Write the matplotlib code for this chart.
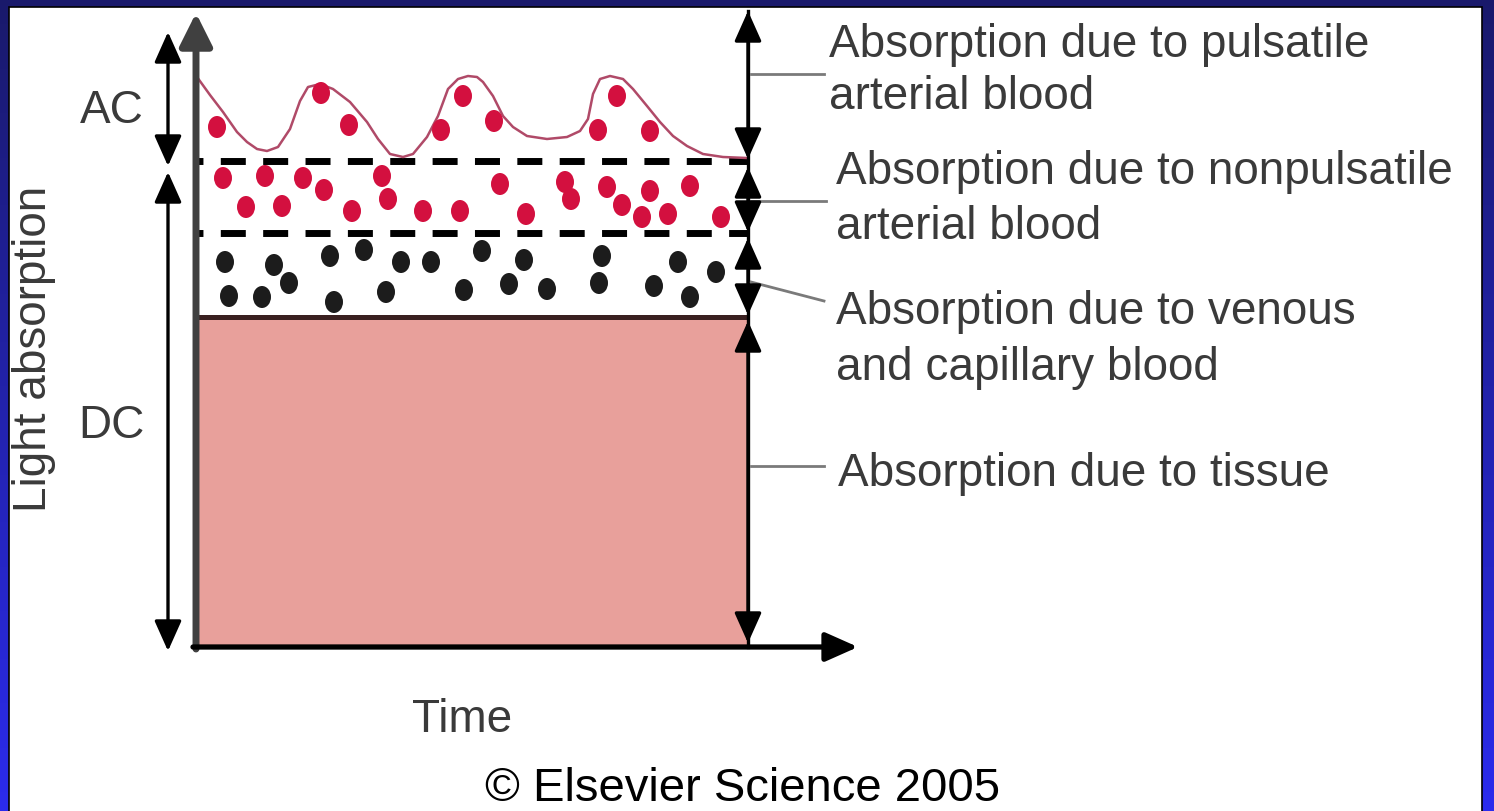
import matplotlib
matplotlib.use("Agg")
import matplotlib.pyplot as plt
import numpy as np
from matplotlib.collections import EllipseCollection
from matplotlib.patches import Rectangle

plt.rcParams['font.family'] = ['Liberation Sans', 'DejaVu Sans']
plt.rcParams['lines.scale_dashes'] = False

# diagram coordinates are in pixels of the 1494x812 picture (y grows downwards)
# pulsatile (AC) curve
curve_x = [197, 210, 223, 237, 247, 257, 267, 278, 290, 300, 308, 320, 333, 350,
           367, 378, 390, 403, 413, 427, 438, 448, 458, 468, 477, 483, 493, 503,
           513, 527, 547, 567, 580, 588, 593, 600, 610, 623, 633, 647, 660, 673,
           687, 703, 723, 747]
curve_y = [78, 96, 113, 133, 143, 150, 152, 148, 130, 102, 88, 85, 90, 103,
           123, 140, 155, 158, 155, 138, 117, 90, 80, 77, 78, 83, 97, 117,
           128, 137, 140, 138, 132, 120, 95, 80, 77, 80, 90, 107, 123, 137,
           147, 155, 158, 159]

# red blood dots above the dashed line (pulsatile part)
ac_dots_x = [217, 321, 349, 441, 463, 494, 598, 617, 650]
ac_dots_y = [128, 94, 126, 131, 97, 122, 131, 97, 132]

# red dots between the dashed lines (nonpulsatile arterial blood)
art_dots_x = [223, 265, 303, 324, 246, 282, 352, 382, 388, 423, 460, 500, 526,
              565, 571, 607, 622, 642, 650, 668, 690, 721]
art_dots_y = [179, 177, 179, 191, 208, 207, 212, 177, 200, 212, 212, 185, 215,
              183, 200, 188, 206, 218, 192, 215, 187, 218]

# black dots (venous and capillary blood)
ven_dots_x = [225, 274, 289, 229, 262, 334, 330, 364, 386, 401, 431, 464, 482,
              509, 524, 547, 602, 599, 654, 678, 690, 716]
ven_dots_y = [263, 266, 284, 297, 298, 303, 257, 251, 293, 263, 263, 291, 252,
              285, 261, 290, 257, 284, 287, 263, 298, 273]

# layer boundaries
ac_top = 12
pulse_base = 162
art_base = 234
tissue_top = 318
baseline = 648
x_left = 196
x_right = 748
x_end = 858
x_acdc = 168

labels = ["Absorption due to pulsatile", "arterial blood",
          "Absorption due to nonpulsatile", "arterial blood",
          "Absorption due to venous", "and capillary blood",
          "Absorption due to tissue"]
label_x = [829, 829, 836, 836, 836, 836, 838]
label_y = [57, 109, 184, 239, 324, 380, 486]

# leader lines from the right arrow to the labels
leader_x0 = [751, 751, 751, 751]
leader_y0 = [75, 202, 283, 467]
leader_x1 = [824, 826, 824, 824]
leader_y1 = [75, 202, 302, 467]

fig = plt.figure(figsize=(14.94, 8.12), dpi=100)
ax = fig.add_axes([0, 0, 1, 1])
ax.set_xlim(0, 1494)
ax.set_ylim(812, 0)
ax.axis('off')

# blue gradient frame
top = np.array([0.10, 0.10, 0.42])
bot = np.array([0.17, 0.17, 0.93])
t = np.linspace(0, 1, 256)[:, None]
grad = (top[None, :] * (1 - t) + bot[None, :] * t)[:, None, :]
ax.imshow(grad, extent=(0, 1494, 812, 0), aspect='auto', zorder=0)
ax.add_patch(Rectangle((9, 8), 1473, 810, facecolor='white', edgecolor='black',
                       lw=1.2, zorder=1))

# tissue block
ax.add_patch(Rectangle((x_left, tissue_top), x_right - x_left, baseline - tissue_top,
                       facecolor='#e8a09b', edgecolor='none', zorder=2))
ax.plot([x_left, x_right], [tissue_top, tissue_top], color='#3a2020', lw=3.6,
        zorder=3, solid_capstyle='butt')

# dashed boundaries
for yy in (pulse_base, art_base):
    ax.plot([x_left, x_right], [yy, yy], color='black', lw=5,
            linestyle=(13, (18, 12.5)), zorder=3)

# pulsatile curve
ax.plot(curve_x, curve_y, color='#b04a68', lw=1.8, zorder=3)

# dots
for xs, ys, col in ((ac_dots_x, ac_dots_y, '#d3103f'),
                    (art_dots_x, art_dots_y, '#d3103f'),
                    (ven_dots_x, ven_dots_y, '#1c1c1c')):
    n = len(xs)
    ec = EllipseCollection(np.full(n, 18), np.full(n, 22), np.zeros(n), units='xy',
                           offsets=np.column_stack([xs, ys]),
                           offset_transform=ax.transData,
                           facecolors=col, edgecolors='none', zorder=4)
    ax.add_collection(ec)

# axes of the diagram
ax.annotate('', xy=(x_left, ac_top + 2), xytext=(x_left, baseline + 2),
            arrowprops=dict(arrowstyle='-|>,head_length=0.9,head_width=0.45',
                            color='#404040', lw=5, shrinkA=0, shrinkB=0,
                            mutation_scale=22), zorder=5)
ax.annotate('', xy=(x_end, baseline), xytext=(x_left - 3, baseline),
            arrowprops=dict(arrowstyle='-|>,head_length=0.9,head_width=0.4',
                            color='black', lw=3.8, shrinkA=0, shrinkB=0,
                            mutation_scale=22), zorder=5)


def double_arrow(x, y0, y1, lw=2.4):
    ax.annotate('', xy=(x, y1), xytext=(x, y0),
                arrowprops=dict(arrowstyle='<|-|>,head_length=0.85,head_width=0.38',
                                color='black', lw=lw, shrinkA=0, shrinkB=0,
                                mutation_scale=22), zorder=6)


# right-hand arrows
ax.plot([x_right, x_right], [ac_top, baseline], color='black', lw=2.4, zorder=5)
double_arrow(x_right, ac_top, pulse_base - 2)
double_arrow(x_right, pulse_base + 6, art_base - 1)
double_arrow(x_right, art_base + 5, tissue_top - 2)
double_arrow(x_right, tissue_top + 4, baseline - 4)

# left-hand AC / DC arrows
double_arrow(x_acdc, 33, 167)
double_arrow(x_acdc, 173, baseline + 4)

# leader lines
for a, b, c, d in zip(leader_x0, leader_y0, leader_x1, leader_y1):
    ax.plot([a, c], [b, d], color='#7a7a7a', lw=2, zorder=5)

txt = '#3a3a3a'
for s, xx, yy in zip(labels, label_x, label_y):
    ax.text(xx, yy, s, fontsize=33, color=txt, ha='left', va='baseline', zorder=7)

ax.text(80, 123, "AC", fontsize=33, color=txt, ha='left', va='baseline', zorder=7)
ax.text(78, 438, "DC", fontsize=33, color=txt, ha='left', va='baseline', zorder=7)
ax.text(34, 349, "Light absorption", fontsize=33, color=txt, rotation=90,
        ha='center', va='center', zorder=7)
ax.text(462, 732, "Time", fontsize=33, color=txt, ha='center', va='baseline', zorder=7)
ax.text(743, 801, "\u00a9 Elsevier Science 2005", fontsize=34, color='black',
        ha='center', va='baseline', zorder=7)

fig.savefig('out.png', dpi=100)
